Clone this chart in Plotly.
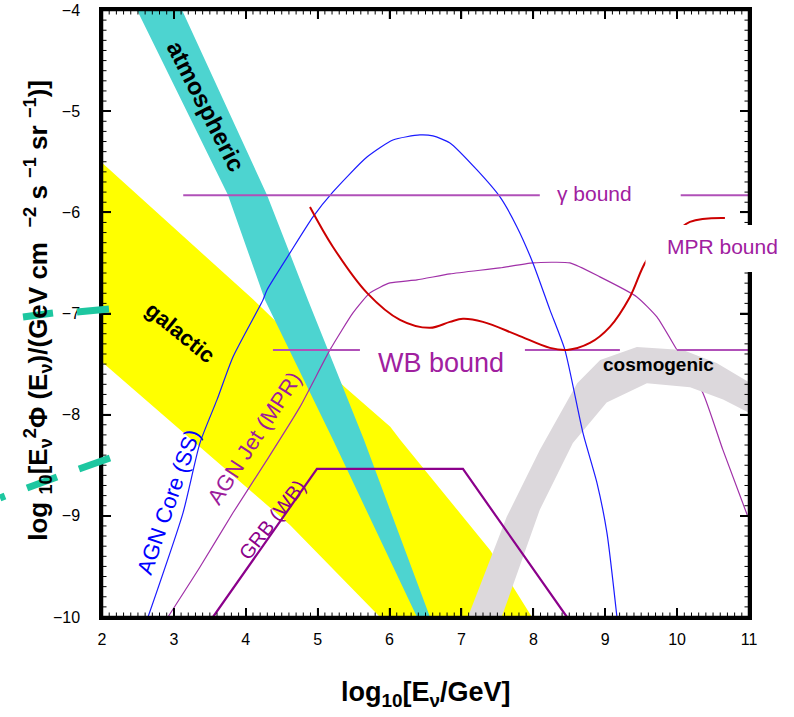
import numpy as np
import plotly.graph_objects as go

# ---------------- data ----------------
# atmospheric band edges
atmo_left_x = [2.487, 3.752, 4.267, 5.213, 6.381]
atmo_left_y = [-4.0, -5.828, -6.866, -8.249, -10.0]
atmo_right_x = [3.113, 4.295, 4.865, 5.644, 6.562]
atmo_right_y = [-4.0, -5.828, -6.866, -8.249, -10.0]

# galactic band edges
gal_up_x = [2.0, 4.10, 4.61, 5.38, 6.01, 6.15, 7.40, 7.98]
gal_up_y = [-5.51, -6.86, -7.21, -7.73, -8.12, -8.25, -9.34, -10.0]
gal_lo_x = [2.0, 3.363, 4.615, 5.866]
gal_lo_y = [-7.48, -8.32, -9.09, -10.0]

# cosmogenic band edges
cosmo_out_x = [7.09, 7.63, 8.09, 8.61, 8.93, 9.44, 10.08, 10.55, 11.0]
cosmo_out_y = [-10.0, -9.01, -8.35, -7.69, -7.46, -7.33, -7.36, -7.49, -7.68]
cosmo_in_x = [7.56, 8.09, 8.55, 9.02, 9.58, 10.18, 10.64, 11.0]
cosmo_in_y = [-10.0, -8.94, -8.28, -7.88, -7.69, -7.73, -7.85, -7.98]

# AGN Jet (MPR)
jet_x = [2.918, 3.363, 3.822, 4.295, 4.754, 5.171, 5.491, 5.727, 6.006, 6.381,
         6.840, 7.535, 7.994, 8.509, 8.926, 9.441, 9.719, 9.997, 10.359, 10.637, 10.985]
jet_y = [-10.0, -9.506, -8.970, -8.447, -7.923, -7.360, -6.994, -6.796, -6.698, -6.668,
         -6.609, -6.549, -6.500, -6.500, -6.638, -6.836, -7.034, -7.360, -7.785, -8.348, -9.010]

# AGN Core (SS)
core_x = [2.640, 3.127, 3.363, 3.599, 3.822, 4.239, 4.295, 4.615, 4.935, 5.213, 5.686,
          6.047, 6.423, 6.604, 6.840, 7.216, 7.536, 7.772, 7.994, 8.231, 8.439, 8.690,
          8.885, 9.024, 9.163]
core_y = [-10.0, -8.970, -8.279, -7.854, -7.429, -6.866, -6.767, -6.401, -6.045, -5.798,
          -5.453, -5.285, -5.235, -5.245, -5.314, -5.581, -5.848, -6.144, -6.500, -6.964,
          -7.360, -8.180, -8.674, -9.168, -10.0]

# GRB (WB)
grb_x = [3.544, 4.990, 7.021, 8.467]
grb_y = [-10.0, -8.536, -8.536, -10.0]

# MPR bound
mpr_x = [4.893, 5.213, 5.686, 6.145, 6.562, 6.840, 7.021, 7.299, 7.772, 8.231, 8.467,
         8.787, 9.065, 9.344, 9.580, 9.830, 10.178, 10.665]
mpr_y = [-5.947, -6.342, -6.796, -7.063, -7.142, -7.083, -7.053, -7.083, -7.211, -7.340,
         -7.360, -7.291, -7.132, -6.836, -6.470, -6.302, -6.095, -6.055]

# gamma bound (segments)
gamma_x = [3.13, 8.09, None, 10.05, 11.0]
gamma_y = [-5.83, -5.83, None, -5.83, -5.83]

# WB bound (segments)
wb_x = [4.378, 5.588, None, 7.883, 9.204, None, 9.997, 11.0]
wb_y = [-7.36, -7.36, None, -7.36, -7.36, None, -7.36, -7.36]

x_range = [2, 11]
y_range = [-10, -4]

FONT = "Liberation Sans, Arial, Helvetica, sans-serif"

fig = go.Figure()

def band(xa, ya, xb, yb, color, name):
    fig.add_trace(go.Scatter(
        x=list(xa) + list(reversed(xb)), y=list(ya) + list(reversed(yb)),
        fill="toself", fillcolor=color, mode="lines", line=dict(width=0, color=color),
        hoverinfo="skip", showlegend=False, name=name))

band(gal_up_x, gal_up_y, gal_lo_x, gal_lo_y, "#ffff00", "galactic")
band(atmo_left_x, atmo_left_y, atmo_right_x, atmo_right_y, "#4dd4d0", "atmospheric")

fig.add_trace(go.Scatter(x=jet_x, y=jet_y, mode="lines", line_shape="spline",
                         line=dict(color="#a030a8", width=1.2, smoothing=0.5), showlegend=False))

band(cosmo_out_x, cosmo_out_y, cosmo_in_x, cosmo_in_y, "#dcd8dc", "cosmogenic")

fig.add_trace(go.Scatter(x=core_x, y=core_y, mode="lines", line_shape="spline",
                         line=dict(color="#1a1aff", width=1.2, smoothing=0.6), showlegend=False))
fig.add_trace(go.Scatter(x=grb_x, y=grb_y, mode="lines",
                         line=dict(color="#8b008b", width=2.2), showlegend=False))
fig.add_trace(go.Scatter(x=gamma_x, y=gamma_y, mode="lines",
                         line=dict(color="#b050b8", width=2), showlegend=False))
fig.add_trace(go.Scatter(x=wb_x, y=wb_y, mode="lines",
                         line=dict(color="#b050b8", width=2), showlegend=False))
fig.add_trace(go.Scatter(x=mpr_x, y=mpr_y, mode="lines", line_shape="spline",
                         line=dict(color="#cc0000", width=2), showlegend=False))

axis_common = dict(
    showline=True, linecolor="black", linewidth=2.5, mirror="ticks",
    ticks="inside", ticklen=9, tickwidth=1.5, tickcolor="black",
    showgrid=False, zeroline=False, automargin=False,
    tickmode="linear", dtick=1, layer="above traces",
    tickfont=dict(family=FONT, size=16, color="black"),
)

fig.update_xaxes(range=x_range, tick0=2, ticklabelstandoff=6, **axis_common)
fig.update_yaxes(range=y_range, tick0=-10, ticklabelstandoff=16, **axis_common)

ann = []
def label(x, y, text, size, color, angle=0, bold=False):
    ann.append(dict(x=x, y=y, xref="x", yref="y", text=("<b>%s</b>" % text) if bold else text,
                    showarrow=False, textangle=angle, xanchor="center", yanchor="middle",
                    font=dict(family=FONT, size=size, color=color)))

label(3.446, -4.958, "atmospheric", 24, "black", 63, True)
label(3.085, -7.192, "galactic", 22, "black", 39, True)
label(9.747, -7.508, "cosmogenic", 19, "black", 0, True)
label(2.932, -8.862, "AGN Core (SS)", 22, "#0000ff", -71)
label(4.128, -8.229, "AGN Jet (MPR)", 22, "#9c1c9c", -57)
label(4.364, -9.040, "GRB (WB)", 20, "#8b008b", -52)
label(6.715, -7.488, "WB bound", 27, "#a0209f")
label(8.857, -5.818, "\u03b3 bound", 21, "#a0209f")
label(10.637, -6.342, "MPR bound", 21, "#a0209f")

ann.append(dict(xref="paper", yref="paper", x=0.5, y=-0.127, showarrow=False,
                xanchor="center", yanchor="middle",
                text="<b>log<sub>10</sub>[E<sub>\u03bd</sub>/GeV]</b>",
                font=dict(family=FONT, size=27, color="black")))
ann.append(dict(xref="paper", yref="paper", x=-0.099, y=0.506, showarrow=False,
                xanchor="center", yanchor="middle", textangle=-90,
                text="<b>log <sub>10</sub>[E<sub>\u03bd</sub><sup>2</sup>\u03a6 (E<sub>\u03bd</sub>)/(GeV cm  <sup>\u22122</sup> s <sup>\u22121</sup> sr <sup>\u22121</sup>)]</b>",
                font=dict(family=FONT, size=26, color="black")))

PLOT_W, PLOT_H = 647.0, 607.0
shapes = [
    # plot frame
    dict(type="rect", xref="paper", yref="paper", x0=0, x1=1, y0=0, y1=1,
         line=dict(color="black", width=2.5), fillcolor="rgba(0,0,0,0)", layer="above"),
]

# tick marks on all four sides (major every 1, minor every 0.1), positioned through the axes
x_tick_vals = np.round(np.arange(x_range[0], x_range[1] + 1e-9, 0.1), 1)
y_tick_vals = np.round(np.arange(y_range[0], y_range[1] + 1e-9, 0.1), 1)
for v in x_tick_vals:
    major = abs(v - round(v)) < 1e-6
    ln = (9 if major else 4.5) / PLOT_H
    w = 1.5 if major else 1.0
    for (a, b) in ((0, ln), (1, 1 - ln)):
        shapes.append(dict(type="line", xref="x", yref="paper", x0=float(v), x1=float(v),
                           y0=a, y1=b, line=dict(color="black", width=w), layer="above"))
for v in y_tick_vals:
    major = abs(v - round(v)) < 1e-6
    ln = (9 if major else 4.5) / PLOT_W
    w = 1.5 if major else 1.0
    for (a, b) in ((0, ln), (1, 1 - ln)):
        shapes.append(dict(type="line", xref="paper", yref="y", y0=float(v), y1=float(v),
                           x0=a, x1=b, line=dict(color="black", width=w), layer="above"))

# white box covering part of the right side (pasted "MPR bound" label area)
shapes.append(dict(type="rect", xref="paper", yref="y", x0=0.84, x1=1.2, y0=-6.589, y1=-6.124,
                   fillcolor="white", line=dict(width=0), layer="above"))

# teal dashed overlay marks at the left
def px2paper(px, py):
    return (px - 102) / PLOT_W, (617 - py) / PLOT_H

dash_segments = [((23, 317), (53, 313)), ((77, 312), (109, 309)),
                 ((0, 498), (5, 496)), ((27, 488), (57, 477)), ((79, 469), (110, 458))]
for (a, b) in dash_segments:
    x0, y0 = px2paper(*a)
    x1, y1 = px2paper(*b)
    shapes.append(dict(type="line", xref="paper", yref="paper", x0=x0, y0=y0, x1=x1, y1=y1,
                       line=dict(color="#1dc7a0", width=7), layer="above"))

fig.update_layout(
    width=794, height=717,
    margin=dict(l=102, r=45, t=10, b=100, autoexpand=False),
    paper_bgcolor="white", plot_bgcolor="white",
    showlegend=False, annotations=ann, shapes=shapes,
    font=dict(family=FONT, color="black"),
)

fig.write_html("out.html", config={"displayModeBar": False},
               post_script="document.body.style.margin='0';document.body.style.overflow='hidden';window.scrollTo(0,0);")
